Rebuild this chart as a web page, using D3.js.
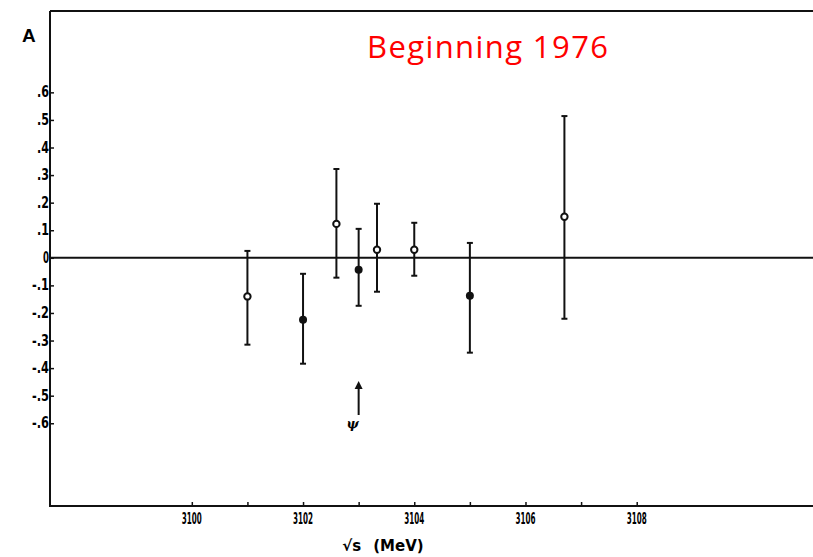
<!DOCTYPE html>
<html>
<head>
<meta charset="utf-8">
<script src="https://cdn.jsdelivr.net/npm/d3@7"></script>
<style>
  body { margin: 0; background: #fff; }
  svg { display: block; }
  .ylab { font-family: "DejaVu Sans Condensed", "DejaVu Sans", sans-serif; font-weight: bold; font-size: 15px; }
  .xlab { font-family: "DejaVu Sans Condensed", "DejaVu Sans", sans-serif; font-weight: bold; font-size: 15px; }
</style>
</head>
<body>
<div id="chart"></div>
<script>
// data
const energies = [3101.0, 3102.0, 3102.6, 3103.0, 3103.33, 3104.0, 3105.0, 3106.7];
const values   = [-0.14, -0.225, 0.123, -0.043, 0.029, 0.029, -0.138, 0.149];
const upper    = [0.025, -0.058, 0.322, 0.105, 0.196, 0.127, 0.054, 0.514];
const lower    = [-0.315, -0.384, -0.072, -0.174, -0.123, -0.065, -0.344, -0.221];
const filled   = [false, true, false, true, false, false, true, false];
const yTicks = [0.6, 0.5, 0.4, 0.3, 0.2, 0.1, 0, -0.1, -0.2, -0.3, -0.4, -0.5, -0.6];
const yTickLabels = [".6", ".5", ".4", ".3", ".2", ".1", "0", "-.1", "-.2", "-.3", "-.4", "-.5", "-.6"];
const xMajor = [3100, 3102, 3104, 3106, 3108];
const xMinor = [3101, 3103, 3105, 3107];
const psiEnergy = 3103.0;

const W = 813, H = 557;
const plotLeft = 50, plotTop = 11, plotBottom = 506;

const svg = d3.select("#chart").append("svg")
    .attr("width", W)
    .attr("height", H);

const x = d3.scaleLinear().domain([3097.45, 3111.17]).range([plotLeft, W]);
const y = d3.scaleLinear().domain([-0.9, 0.895]).range([plotBottom, plotTop]);

// frame: top border, left axis
svg.append("line").attr("x1", plotLeft).attr("x2", W).attr("y1", plotTop).attr("y2", plotTop)
    .attr("stroke", "#111").attr("stroke-width", 2);
svg.append("line").attr("x1", plotLeft).attr("x2", plotLeft).attr("y1", plotTop).attr("y2", plotBottom + 1)
    .attr("stroke", "#111").attr("stroke-width", 2);

// y axis (ticks inward)
const yAxis = d3.axisRight(y)
    .tickValues(yTicks)
    .tickSize(4)
    .tickFormat("");
const gy = svg.append("g").attr("transform", "translate(" + plotLeft + ",0)").call(yAxis);
gy.select(".domain").remove();
gy.selectAll(".tick line").attr("stroke", "#111").attr("stroke-width", 1.5);

// narrow old typeset labels
svg.selectAll(".ylab")
    .data(yTicks)
    .enter()
    .append("text")
    .attr("class", "ylab")
    .attr("x", plotLeft - 1)
    .attr("y", function (d) { return y(d) + 5; })
    .attr("text-anchor", "end")
    .attr("lengthAdjust", "spacingAndGlyphs")
    .attr("textLength", function (d, i) {
        const n = yTickLabels[i].length;
        return n === 1 ? 6 : (n === 2 ? 12 : 17);
    })
    .text(function (d, i) { return yTickLabels[i]; });

// x axis (ticks inward, upward)
const xAxis = d3.axisTop(x)
    .tickValues(xMajor.concat(xMinor))
    .tickSize(4)
    .tickFormat("");
const gx = svg.append("g").attr("transform", "translate(0," + plotBottom + ")").call(xAxis);
gx.select(".domain").remove();
gx.selectAll(".tick line").attr("stroke", "#111").attr("stroke-width", 1.5);
svg.append("line").attr("x1", plotLeft).attr("x2", W).attr("y1", plotBottom).attr("y2", plotBottom)
    .attr("stroke", "#111").attr("stroke-width", 2);

svg.selectAll(".xlab")
    .data(xMajor)
    .enter()
    .append("text")
    .attr("class", "xlab")
    .attr("x", function (d) { return x(d) - 10; })
    .attr("y", plotBottom + 18)
    .attr("lengthAdjust", "spacingAndGlyphs")
    .attr("textLength", 20)
    .text(function (d) { return d; });

// zero line
svg.append("line").attr("x1", plotLeft).attr("x2", W).attr("y1", y(0)).attr("y2", y(0))
    .attr("stroke", "#111").attr("stroke-width", 2);

// error bars
const pts = svg.selectAll(".pt")
    .data(energies)
    .enter()
    .append("g");

pts.append("line")
    .attr("x1", function (d) { return x(d); })
    .attr("x2", function (d) { return x(d); })
    .attr("y1", function (d, i) { return y(upper[i]); })
    .attr("y2", function (d, i) { return y(lower[i]); })
    .attr("stroke", "#111").attr("stroke-width", 2);

pts.append("line")
    .attr("x1", function (d) { return x(d) - 3; })
    .attr("x2", function (d) { return x(d) + 3; })
    .attr("y1", function (d, i) { return y(upper[i]); })
    .attr("y2", function (d, i) { return y(upper[i]); })
    .attr("stroke", "#111").attr("stroke-width", 2);

pts.append("line")
    .attr("x1", function (d) { return x(d) - 3; })
    .attr("x2", function (d) { return x(d) + 3; })
    .attr("y1", function (d, i) { return y(lower[i]); })
    .attr("y2", function (d, i) { return y(lower[i]); })
    .attr("stroke", "#111").attr("stroke-width", 2);

pts.append("circle")
    .attr("cx", function (d) { return x(d); })
    .attr("cy", function (d, i) { return y(values[i]); })
    .attr("r", function (d, i) { return filled[i] ? 4 : 3.2; })
    .attr("fill", function (d, i) { return filled[i] ? "#111" : "#fff"; })
    .attr("stroke", "#111")
    .attr("stroke-width", function (d, i) { return filled[i] ? 0 : 2; });

// psi arrow
const defs = svg.append("defs");
defs.append("marker")
    .attr("id", "arr")
    .attr("viewBox", "0 0 10 10")
    .attr("refX", 5).attr("refY", 5)
    .attr("markerWidth", 4).attr("markerHeight", 5)
    .attr("orient", "auto")
    .append("path").attr("d", "M0,0 L10,5 L0,10 z").attr("fill", "#111");

svg.append("line")
    .attr("x1", x(psiEnergy)).attr("x2", x(psiEnergy))
    .attr("y1", 415).attr("y2", 385)
    .attr("stroke", "#111").attr("stroke-width", 2)
    .attr("marker-end", "url(#arr)");

svg.append("text")
    .attr("x", x(psiEnergy) - 6)
    .attr("y", 428)
    .attr("text-anchor", "middle")
    .attr("font-family", "DejaVu Serif, serif")
    .attr("font-style", "italic")
    .attr("font-weight", "bold")
    .attr("font-size", 13)
    .text("ψ");

// panel letter
svg.append("text")
    .attr("x", 22).attr("y", 42)
    .attr("font-family", "Liberation Sans, Arial, sans-serif")
    .attr("font-weight", "bold")
    .attr("font-size", 19)
    .text("A");

// axis title
const xt = svg.append("text")
    .attr("x", 383).attr("y", 551)
    .attr("text-anchor", "middle")
    .attr("font-family", "DejaVu Sans, sans-serif")
    .attr("font-weight", "bold")
    .attr("font-size", 15);
xt.append("tspan").text("√s");
xt.append("tspan").attr("dx", 12).text("(MeV)");

// title
svg.append("text")
    .attr("x", 367).attr("y", 58)
    .attr("font-family", "Open Sans, sans-serif")
    .attr("font-size", 31)
    .attr("fill", "#ff0000")
    .attr("textLength", 241)
    .text("Beginning 1976");
</script>
</body>
</html>
